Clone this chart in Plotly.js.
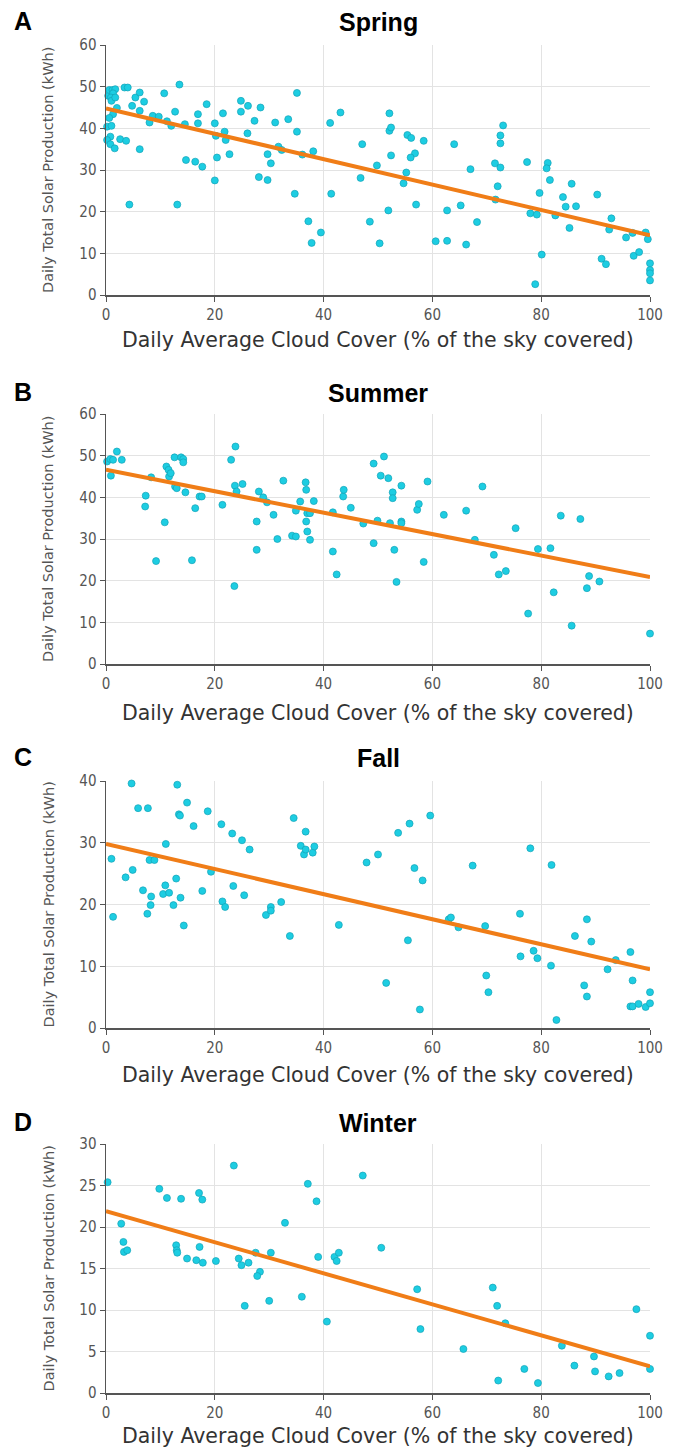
<!DOCTYPE html>
<html>
<head>
<meta charset="utf-8">
<script src="https://cdn.plot.ly/plotly-3.0.1.min.js"></script>
<style>html,body{margin:0;padding:0;background:#fff;}#chart{width:676px;height:1450px;}</style>
</head>
<body>
<div id="chart"></div>
<script>
// ---- data (cloud cover %, production kWh) ----
const seasons = ["Spring", "Summer", "Fall", "Winter"];
const panelLetters = ["A", "B", "C", "D"];
const xTitle = "Daily Average Cloud Cover (% of the sky covered)";
const yTitle = "Daily Total Solar Production (kWh)";

const springPoints = [[0.4,47.8],[0.6,49.2],[1.2,49.2],[1.7,49.4],[1.3,48.4],[0.9,47.4],[1.0,46.6],[1.7,47.4],[2.0,44.9],[1.3,43.4],[0.6,42.5],[0.2,40.4],[1.0,40.6],[0.8,38.0],[0.2,37.2],[0.8,36.2],[1.6,35.2],[2.6,37.4],[3.7,37.0],[3.4,49.8],[4.0,49.8],[4.8,45.4],[5.4,47.4],[6.2,48.6],[6.2,44.2],[7.0,46.4],[6.2,35.0],[8.0,41.4],[8.6,43.0],[9.7,42.8],[11.2,41.7],[12.0,40.6],[10.7,48.4],[12.7,44.0],[13.5,50.5],[14.5,41.0],[14.7,32.4],[16.4,32.0],[17.7,30.8],[16.9,43.4],[16.9,41.2],[18.5,45.8],[20.0,41.2],[20.2,38.2],[20.4,33.0],[21.5,43.6],[21.8,39.2],[22.0,37.2],[22.7,33.8],[24.8,46.6],[24.8,44.0],[26.1,45.4],[26.0,38.8],[27.3,41.8],[28.4,45.0],[29.7,33.8],[30.3,31.6],[31.1,41.4],[31.7,35.6],[32.3,34.8],[33.5,42.2],[35.1,48.5],[35.1,39.2],[36.1,33.7],[38.1,34.5],[41.2,41.3],[43.1,43.8],[47.1,36.2],[49.8,31.1],[52.1,43.6],[52.1,39.4],[52.4,40.2],[52.4,33.5],[55.4,38.4],[56.1,37.7],[56.8,34.0],[56.0,33.0],[58.4,37.0],[55.2,29.4],[64.0,36.2],[67.0,30.2],[71.5,31.6],[72.5,30.6],[72.5,38.3],[72.5,36.4],[73.0,40.7],[77.4,31.9],[81.2,31.7],[81.0,30.4],[81.6,27.6],[46.8,28.1],[20.0,27.5],[4.3,21.7],[13.1,21.7],[28.1,28.3],[29.7,27.6],[34.7,24.3],[37.2,17.7],[37.8,12.5],[39.5,15.0],[41.4,24.3],[48.5,17.6],[50.3,12.4],[51.9,20.3],[54.7,26.8],[57.0,21.7],[60.6,12.9],[62.7,20.3],[62.7,13.0],[65.2,21.5],[66.2,12.1],[68.2,17.5],[72.0,26.1],[71.6,22.9],[78.0,19.6],[79.2,19.3],[79.7,24.5],[78.9,2.6],[80.1,9.7],[82.6,19.1],[84.0,23.5],[84.5,21.2],[85.2,16.1],[85.6,26.7],[86.4,21.3],[90.3,24.1],[91.1,8.7],[91.9,7.4],[92.9,18.4],[92.5,15.7],[95.6,13.8],[96.8,14.9],[97.0,9.4],[98.0,10.3],[99.2,15.0],[99.6,13.4],[100,7.6],[100,6.0],[100,5.2],[100,3.5]];

const summerPoints = [[0.2,48.6],[0.8,49.2],[1.3,49.0],[2.0,51.0],[2.9,49.0],[0.9,45.2],[7.3,40.4],[7.2,37.8],[8.3,44.8],[10.8,34.0],[11.1,47.4],[11.5,46.6],[11.6,45.0],[11.9,45.8],[12.6,49.6],[12.7,42.6],[13.0,42.2],[13.8,49.6],[14.2,49.2],[14.2,48.4],[14.6,41.2],[16.4,37.4],[17.2,40.2],[17.6,40.2],[21.4,38.2],[23.0,49.0],[23.8,52.2],[23.7,42.8],[24.0,41.4],[25.1,43.2],[27.7,34.2],[27.7,27.4],[28.1,41.4],[28.9,40.0],[29.6,38.8],[30.8,35.8],[31.5,30.0],[32.6,44.0],[34.2,30.8],[34.9,30.6],[34.9,36.8],[35.7,39.0],[36.7,43.6],[36.8,41.8],[37.0,36.2],[36.8,34.2],[37.0,31.8],[37.5,29.8],[37.5,36.2],[38.2,39.1],[41.7,36.4],[41.7,27.0],[43.6,40.2],[43.7,41.8],[45.0,37.5],[47.3,33.7],[49.2,48.1],[49.2,29.0],[49.9,34.4],[50.5,45.2],[51.1,49.8],[51.9,44.6],[52.2,33.8],[52.7,41.2],[52.7,39.8],[53.0,27.4],[54.3,42.8],[54.3,34.2],[54.3,33.8],[57.2,37.0],[57.5,38.4],[59.1,43.8],[62.1,35.8],[66.2,36.8],[67.8,29.8],[69.2,42.6],[71.3,26.2],[75.3,32.6],[79.4,27.6],[81.7,27.8],[83.6,35.6],[87.2,34.8],[9.2,24.7],[15.8,24.9],[23.6,18.7],[42.4,21.5],[53.4,19.7],[58.4,24.5],[72.2,21.5],[73.5,22.3],[77.6,12.1],[82.3,17.2],[85.6,9.2],[88.4,18.2],[88.8,21.1],[90.7,19.8],[100,7.3]];

const fallPoints = [[1.0,27.4],[1.3,18.0],[3.6,24.4],[4.7,39.6],[4.9,25.6],[5.9,35.6],[6.8,22.3],[7.6,18.5],[7.7,35.6],[8.0,27.2],[8.3,21.3],[8.2,19.9],[8.9,27.2],[10.5,21.7],[10.9,23.1],[11.0,29.8],[11.6,21.9],[12.4,19.9],[12.9,24.2],[13.1,39.4],[13.4,34.6],[13.6,34.4],[13.7,21.1],[14.3,16.6],[14.9,36.5],[16.1,32.7],[17.7,22.2],[18.7,35.1],[19.3,25.3],[21.2,33.0],[21.4,20.5],[21.9,19.6],[23.2,31.5],[23.4,23.0],[25.0,30.4],[25.4,21.5],[26.4,28.9],[29.4,18.3],[30.3,19.6],[30.3,19.0],[32.2,20.4],[33.8,14.9],[34.5,34.0],[35.8,29.5],[36.4,28.1],[36.7,31.8],[36.7,28.9],[38.0,28.4],[38.3,29.4],[42.8,16.7],[47.9,26.8],[50.0,28.1],[53.7,31.6],[55.8,33.1],[56.7,25.9],[58.2,23.9],[59.6,34.4],[67.4,26.3],[78.0,29.1],[81.9,26.4],[51.5,7.3],[55.5,14.2],[57.7,3.0],[63.0,17.6],[63.4,17.9],[64.8,16.3],[69.7,16.5],[69.9,8.5],[70.3,5.8],[76.1,18.5],[76.2,11.6],[78.6,12.5],[79.3,11.3],[81.8,10.1],[82.8,1.3],[86.2,14.9],[87.9,6.9],[88.4,17.6],[88.4,5.1],[89.2,14.0],[92.2,9.5],[93.7,11.0],[96.4,12.3],[96.4,3.5],[96.8,3.5],[96.8,7.7],[97.9,3.9],[99.2,3.4],[100,4.0],[100,5.8]];

const winterPoints = [[0.3,25.4],[2.8,20.4],[3.2,18.2],[3.3,17.0],[3.9,17.2],[9.8,24.6],[11.2,23.5],[13.8,23.4],[12.9,17.8],[13.0,17.2],[13.1,16.9],[14.9,16.2],[16.6,16.0],[17.1,24.1],[17.7,23.3],[17.2,17.6],[17.8,15.7],[20.2,15.9],[23.5,27.4],[24.4,16.2],[24.9,15.4],[26.2,15.7],[27.5,16.9],[28.3,14.6],[27.8,14.1],[30.3,16.9],[32.9,20.5],[37.1,25.2],[38.7,23.1],[39.0,16.4],[42.0,16.4],[42.8,16.9],[42.4,15.9],[47.2,26.2],[50.6,17.5],[25.5,10.5],[30.0,11.1],[36.0,11.6],[40.6,8.6],[57.2,12.5],[57.8,7.7],[65.7,5.3],[71.1,12.7],[71.9,10.5],[72.1,1.5],[73.4,8.4],[76.9,2.9],[79.4,1.2],[83.8,5.7],[86.1,3.3],[89.7,4.4],[89.9,2.6],[92.4,2.0],[94.4,2.4],[97.5,10.1],[100,6.9],[100,2.9]];

// fitted trend lines (value at cloud cover 0 and 100)
const fitCloud = [0, 100];
const springFit = [44.8, 14.3];
const summerFit = [46.6, 20.9];
const fallFit = [29.8, 9.5];
const winterFit = [21.9, 3.2];

const yMax = [60, 60, 40, 30];
const yDtick = [10, 10, 10, 5];
const xTicks = [0, 20, 40, 60, 80, 100];

// ---- drawing ----
const allPoints = [springPoints, summerPoints, fallPoints, winterPoints];
const allFits = [springFit, summerFit, fallFit, winterFit];

const H = 1450, W = 676, L = 106, R = 26;
const plotW = W - L - R;
// plot area pixel bounds [top, bottom]
const areas = [[45, 295], [414, 664], [781, 1028], [1144, 1393]];
const titleY = [22, 393, 758, 1123];
const xTitleY = [340, 713, 1075, 1436];

const py = p => 1 - p / H;
const px = p => (p - L) / plotW;

const data = [];
const layout = {
  width: W, height: H,
  margin: {l: L, r: R, t: 0, b: 0},
  paper_bgcolor: "#fff", plot_bgcolor: "#fff",
  showlegend: false,
  annotations: []
};

const tickFont = {family: "DejaVu Sans Condensed, DejaVu Sans, sans-serif", size: 15, color: "#555"};

allPoints.forEach((pts, i) => {
  const n = i === 0 ? "" : String(i + 1);
  data.push({
    type: "scatter", mode: "markers",
    x: pts.map(p => p[0]), y: pts.map(p => p[1]),
    xaxis: "x" + n, yaxis: "y" + n,
    cliponaxis: false,
    marker: {color: "#1dcde2", size: 7, line: {color: "#12a3b8", width: 0.7}},
    hoverinfo: "x+y"
  });
  data.push({
    type: "scatter", mode: "lines",
    x: fitCloud, y: allFits[i],
    xaxis: "x" + n, yaxis: "y" + n,
    cliponaxis: false,
    line: {color: "#f07d17", width: 4}
  });
  const [top, bot] = areas[i];
  layout["xaxis" + n] = {
    domain: [0, 1], anchor: "y" + n,
    range: [0, 100], tickvals: xTicks,
    showgrid: true, gridcolor: "#e3e3e3", gridwidth: 1,
    zeroline: false, showline: true, linecolor: "#555", linewidth: 1.5,
    ticks: "outside", ticklen: 5, tickcolor: "#555",
    tickfont: tickFont, mirror: false, fixedrange: true
  };
  layout["yaxis" + n] = {
    domain: [py(bot), py(top)], anchor: "x" + n,
    range: [0, yMax[i]], dtick: yDtick[i], tick0: 0,
    showgrid: true, gridcolor: "#e3e3e3", gridwidth: 1,
    zeroline: false, showline: true, linecolor: "#555", linewidth: 1.5,
    ticks: "outside", ticklen: 5, tickcolor: "#555",
    tickfont: tickFont, fixedrange: true
  };
  layout.annotations.push({
    text: "<b>" + seasons[i] + "</b>", xref: "paper", yref: "paper",
    x: 0.5, y: py(titleY[i]), xanchor: "center", yanchor: "middle",
    showarrow: false, font: {family: "Liberation Sans, Arial, sans-serif", size: 25, color: "#000"}
  });
  layout.annotations.push({
    text: "<b>" + panelLetters[i] + "</b>", xref: "paper", yref: "paper",
    x: px(23), y: py(titleY[i] - 1), xanchor: "center", yanchor: "middle",
    showarrow: false, font: {family: "Liberation Sans, Arial, sans-serif", size: 25, color: "#000"}
  });
  layout.annotations.push({
    text: xTitle, xref: "paper", yref: "paper",
    x: 0.5, y: py(xTitleY[i]), xanchor: "center", yanchor: "middle",
    showarrow: false, font: {family: "DejaVu Sans, sans-serif", size: 20.5, color: "#333"}
  });
  layout.annotations.push({
    text: yTitle, xref: "paper", yref: "paper", textangle: -90,
    x: px(48), y: py((top + bot) / 2), xanchor: "center", yanchor: "middle",
    showarrow: false, font: {family: "DejaVu Sans, sans-serif", size: 14.5, color: "#555"}
  });
});

Plotly.newPlot("chart", data, layout, {displayModeBar: false, staticPlot: true});
</script>
</body>
</html>
